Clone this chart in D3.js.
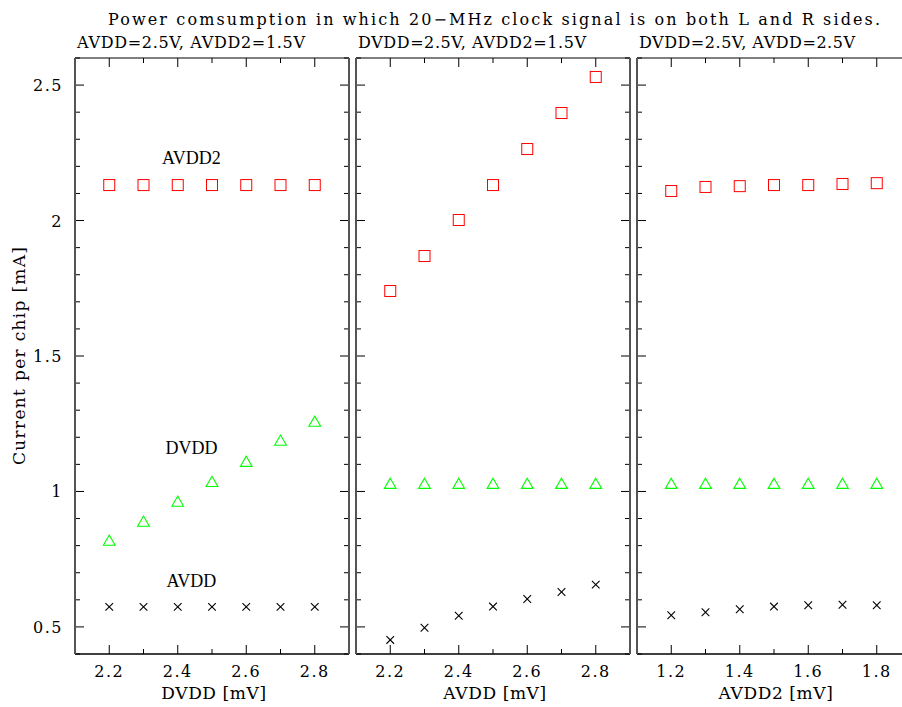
<!DOCTYPE html>
<html>
<head>
<meta charset="utf-8">
<script src="https://cdn.jsdelivr.net/npm/d3@7"></script>
<style>
  body { margin: 0; background: #fff; }
  text { font-family: "DejaVu Serif", serif; fill: #000; }
</style>
</head>
<body>
<div id="chart"></div>
<script>
// x values per panel
var xDvdd = [2.2, 2.3, 2.4, 2.5, 2.6, 2.7, 2.8];
var xAvdd = [2.2, 2.3, 2.4, 2.5, 2.6, 2.7, 2.8];
var xAvdd2 = [1.2, 1.3, 1.4, 1.5, 1.6, 1.7, 1.8];

// panel 1: DVDD varied
var p1Avdd2 = [2.131, 2.131, 2.131, 2.131, 2.131, 2.131, 2.131];
var p1Dvdd = [0.814, 0.884, 0.958, 1.031, 1.105, 1.183, 1.253];
var p1Avdd = [0.574, 0.574, 0.574, 0.574, 0.574, 0.574, 0.574];

// panel 2: AVDD varied
var p2Avdd2 = [1.740, 1.869, 2.002, 2.131, 2.264, 2.397, 2.530];
var p2Dvdd = [1.024, 1.024, 1.024, 1.024, 1.024, 1.024, 1.024];
var p2Avdd = [0.452, 0.497, 0.541, 0.575, 0.603, 0.629, 0.656];

// panel 3: AVDD2 varied
var p3Avdd2 = [2.109, 2.124, 2.127, 2.131, 2.131, 2.135, 2.138];
var p3Dvdd = [1.024, 1.024, 1.024, 1.024, 1.024, 1.024, 1.024];
var p3Avdd = [0.543, 0.554, 0.565, 0.575, 0.580, 0.582, 0.580];

var panelTitles = ["AVDD=2.5V, AVDD2=1.5V", "DVDD=2.5V, AVDD2=1.5V", "DVDD=2.5V, AVDD=2.5V"];
var xTitles = ["DVDD [mV]", "AVDD [mV]", "AVDD2 [mV]"];
var xDomains = [[2.1, 2.9], [2.1, 2.9], [1.1, 1.9]];
var seriesNames = ["AVDD2", "DVDD", "AVDD"];

var panels = [
  {x: xDvdd, s: [p1Avdd2, p1Dvdd, p1Avdd]},
  {x: xAvdd, s: [p2Avdd2, p2Dvdd, p2Avdd]},
  {x: xAvdd2, s: [p3Avdd2, p3Dvdd, p3Avdd]}
];

var W = 902, H = 707;
var plotTop = 58, plotBottom = 654;
var lefts = [75, 356, 637], pw = 274;

var svg = d3.select("#chart").append("svg")
  .attr("width", W).attr("height", H);

var yScale = d3.scaleLinear().domain([0.4, 2.6]).range([plotBottom, plotTop]);

//title
svg.append("text")
  .attr("x", 494).attr("y", 25)
  .attr("text-anchor", "middle")
  .attr("font-size", "16px")
  .attr("textLength", 772)
  .attr("lengthAdjust", "spacing")
  .text("Power comsumption in which 20\u2212MHz clock signal is on both L and R sides.");

//y label
svg.append("text")
  .attr("transform", "translate(25," + ((plotTop + plotBottom) / 2) + ") rotate(-90)")
  .attr("text-anchor", "middle")
  .attr("font-size", "17px")
  .attr("textLength", 218)
  .attr("lengthAdjust", "spacing")
  .text("Current per chip [mA]");

var yMajor = d3.range(0.5, 2.51, 0.5);
var yMinor = d3.range(0.4, 2.61, 0.1);

panels.forEach(function(p, i) {
  var x0 = lefts[i];
  var xScale = d3.scaleLinear().domain(xDomains[i]).range([x0, x0 + pw]);
  var g = svg.append("g");

  var clipId = "clip" + i;
  g.append("defs").append("clipPath").attr("id", clipId)
    .append("rect").attr("x", x0).attr("y", plotTop).attr("width", pw).attr("height", plotBottom - plotTop);

  var d0 = xDomains[i][0];
  var xMinor = d3.range(0, 9).map(function(k) { return +(d0 + k * 0.1).toFixed(2); });
  var xMajor = xMinor.filter(function(v, k) { return k % 2 == 1; });

  // ticks on all four sides
  var tk = g.append("g").attr("stroke", "#000").attr("stroke-width", 1);
  xMinor.forEach(function(v) {
    var len = xMajor.indexOf(v) >= 0 ? 9 : 5;
    tk.append("line").attr("x1", xScale(v)).attr("x2", xScale(v)).attr("y1", plotBottom).attr("y2", plotBottom - len);
    tk.append("line").attr("x1", xScale(v)).attr("x2", xScale(v)).attr("y1", plotTop).attr("y2", plotTop + len);
  });
  yMinor.forEach(function(v) {
    var isMaj = yMajor.some(function(m) { return Math.abs(m - v) < 1e-6; });
    var len = isMaj ? 9 : 5;
    tk.append("line").attr("x1", x0).attr("x2", x0 + len).attr("y1", yScale(v)).attr("y2", yScale(v));
    tk.append("line").attr("x1", x0 + pw).attr("x2", x0 + pw - len).attr("y1", yScale(v)).attr("y2", yScale(v));
  });

  // frame
  g.append("line").attr("x1", x0).attr("x2", x0 + pw).attr("y1", plotTop).attr("y2", plotTop)
    .attr("stroke", "#000").attr("stroke-width", 1.2);
  g.append("line").attr("x1", x0).attr("x2", x0 + pw).attr("y1", plotBottom).attr("y2", plotBottom)
    .attr("stroke", "#000").attr("stroke-width", 1.5);
  g.append("line").attr("x1", x0).attr("x2", x0).attr("y1", plotTop).attr("y2", plotBottom)
    .attr("stroke", "#555").attr("stroke-width", 2);
  g.append("line").attr("x1", x0 + pw).attr("x2", x0 + pw).attr("y1", plotTop).attr("y2", plotBottom)
    .attr("stroke", "#555").attr("stroke-width", 2);

  // x tick labels
  g.selectAll(".xl").data(xMajor).enter().append("text")
    .attr("x", function(d) { return xScale(d); })
    .attr("y", 677)
    .attr("text-anchor", "middle")
    .attr("font-size", "16px")
    .attr("letter-spacing", "1.5px")
    .text(function(d) { return d3.format(".1f")(d); });

  if (i == 0) {
    g.selectAll(".yl").data(yMajor).enter().append("text")
      .attr("x", x0 - 12)
      .attr("y", function(d) { return yScale(d) + 6; })
      .attr("text-anchor", "end")
      .attr("font-size", "16px")
      .attr("letter-spacing", "1.5px")
      .text(function(d) { return d3.format("")(d); });
  }

  // x title
  g.append("text")
    .attr("x", x0 + pw / 2 + 2).attr("y", 699)
    .attr("text-anchor", "middle")
    .attr("font-size", "17px")
    .attr("letter-spacing", "0.6px")
    .text(xTitles[i]);

  // panel subtitle
  g.append("text")
    .attr("x", x0 + 2).attr("y", 48)
    .attr("font-size", "16px")
    .attr("textLength", i == 2 ? 216 : 228)
    .attr("lengthAdjust", "spacing")
    .text(panelTitles[i]);

  var marks = g.append("g").attr("clip-path", "url(#" + clipId + ")");

  // AVDD2: squares
  marks.selectAll(".sq").data(p.s[0]).enter().append("rect")
    .attr("x", function(d, k) { return xScale(p.x[k]) - 5.5; })
    .attr("y", function(d) { return yScale(d) - 5.5; })
    .attr("width", 11).attr("height", 11)
    .attr("fill", "none").attr("stroke", "#ff0000").attr("stroke-width", 1);

  // DVDD: triangles
  var tri = d3.symbol().type(d3.symbolTriangle).size(60);
  marks.selectAll(".tr").data(p.s[1]).enter().append("path")
    .attr("d", tri)
    .attr("transform", function(d, k) { return "translate(" + xScale(p.x[k]) + "," + yScale(d) + ")"; })
    .attr("fill", "none").attr("stroke", "#00ff00").attr("stroke-width", 1.1);

  // AVDD: crosses
  var cr = d3.symbol().type(d3.symbolX).size(40);
  marks.selectAll(".cr").data(p.s[2]).enter().append("path")
    .attr("d", cr)
    .attr("transform", function(d, k) { return "translate(" + xScale(p.x[k]) + "," + yScale(d) + ")"; })
    .attr("fill", "none").attr("stroke", "#000").attr("stroke-width", 1.1);

  if (i == 0) {
    var labY = [2.209, 1.138, 0.647];
    seriesNames.forEach(function(n, k) {
      g.append("text")
        .attr("x", xScale(2.44)).attr("y", yScale(labY[k]))
        .attr("text-anchor", "middle")
        .style("font-family", "'Liberation Serif', serif")
        .attr("font-size", "18px")
        .text(n);
    });
  }
});
</script>
</body>
</html>
